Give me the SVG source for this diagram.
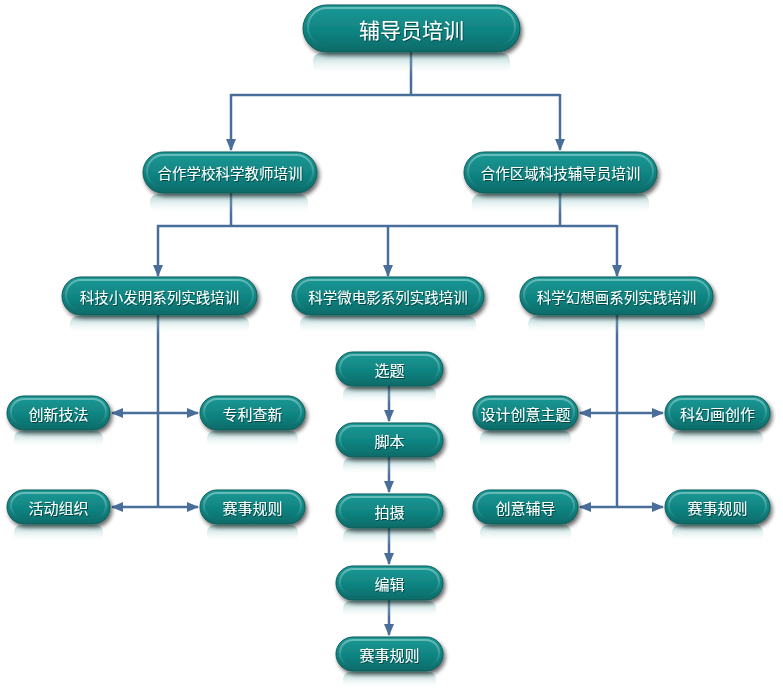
<svg xmlns="http://www.w3.org/2000/svg" width="783" height="689" viewBox="0 0 783 689">
<defs>
<linearGradient id="body" x1="0" y1="0" x2="0" y2="1">
<stop offset="0" stop-color="#1a9996"/>
<stop offset="0.55" stop-color="#108481"/>
<stop offset="1" stop-color="#0a6a68"/>
</linearGradient>
<linearGradient id="gloss" x1="0" y1="0" x2="0" y2="1">
<stop offset="0" stop-color="#ffffff" stop-opacity="0.35"/>
<stop offset="1" stop-color="#ffffff" stop-opacity="0"/>
</linearGradient>
<linearGradient id="refl" x1="0" y1="0" x2="0" y2="1">
<stop offset="0" stop-color="#4f9f9d" stop-opacity="0.5"/>
<stop offset="1" stop-color="#ffffff" stop-opacity="0"/>
</linearGradient>
<filter id="sh" x="-20%" y="-30%" width="140%" height="170%">
<feGaussianBlur in="SourceAlpha" stdDeviation="2"/>
<feOffset dx="2" dy="3" result="b"/>
<feComponentTransfer><feFuncA type="linear" slope="0.6"/></feComponentTransfer>
<feMerge><feMergeNode/><feMergeNode in="SourceGraphic"/></feMerge>
</filter>
<filter id="ts" x="-10%" y="-30%" width="120%" height="160%">
<feGaussianBlur in="SourceAlpha" stdDeviation="0.5"/>
<feOffset dx="0.6" dy="0.6"/>
<feComponentTransfer><feFuncA type="linear" slope="0.45"/></feComponentTransfer>
<feMerge><feMergeNode/><feMergeNode in="SourceGraphic"/></feMerge>
</filter>
<marker id="arr" markerUnits="userSpaceOnUse" markerWidth="12" markerHeight="10" refX="11" refY="5" orient="auto">
<path d="M0,0 L12,5 L0,10 Z" fill="#4a6e9a"/>
</marker>
</defs>
<style>
.pill{fill:url(#body);stroke:#0b5a58;stroke-width:1;filter:url(#sh)}
.gl{fill:none;stroke:url(#gloss);stroke-width:2}
.rf{fill:url(#refl)}
.t{font-family:"Noto Sans CJK SC","Noto Sans",sans-serif;fill:#ffffff;text-anchor:middle;dominant-baseline:central;filter:url(#ts)}
.s14{font-size:14.5px}
.s15{font-size:15px}
.s20{font-size:21px}
.c{fill:none;stroke:#4a6e9a;stroke-width:2.5}
.a{fill:none;stroke:#4a6e9a;stroke-width:2.5;marker-end:url(#arr)}
</style>
<rect width="783" height="689" fill="#ffffff"/>

<g id="connectors">
<path class="c" d="M411,52 V95 M231,95 H560"/>
<path class="a" d="M231,94 V150"/>
<path class="a" d="M560,94 V150"/>
<path class="c" d="M231,193 V226 M560,193 V226 M157,226 H617"/>
<path class="a" d="M158,225 V276"/>
<path class="a" d="M388,225 V276"/>
<path class="a" d="M617,225 V276"/>
<path class="c" d="M158,315 V507"/>
<path class="a" d="M158,413 H112"/>
<path class="a" d="M158,413 H198"/>
<path class="a" d="M158,507 H112"/>
<path class="a" d="M158,507 H198"/>
<path class="c" d="M617,315 V507"/>
<path class="a" d="M617,413 H580"/>
<path class="a" d="M617,413 H663"/>
<path class="a" d="M617,507 H580"/>
<path class="a" d="M617,507 H663"/>
<path class="a" d="M389,386 V421"/>
<path class="a" d="M389,457 V492"/>
<path class="a" d="M389,528 V564"/>
<path class="a" d="M389,600 V635"/>
</g>

<g id="n-root">
<rect class="rf" x="313" y="53" width="197" height="22" rx="8"/>
<rect class="pill" x="303" y="5" width="217" height="47" rx="23.5"/>
<rect class="gl" x="308" y="8" width="207" height="38" rx="19"/>
<text class="t s20" x="411.5" y="29">辅导员培训</text>
</g>

<g id="n-school">
<rect class="rf" x="150" y="194" width="158" height="20" rx="8"/>
<rect class="pill" x="143" y="152" width="174" height="41" rx="20.5"/>
<rect class="gl" x="147" y="155" width="166" height="33" rx="16.5"/>
<text class="t s14" x="230" y="172.5">合作学校科学教师培训</text>
</g>

<g id="n-region">
<rect class="rf" x="472" y="194" width="177" height="20" rx="8"/>
<rect class="pill" x="464" y="152" width="193" height="41" rx="20.5"/>
<rect class="gl" x="468" y="155" width="185" height="33" rx="16.5"/>
<text class="t s14" x="560.5" y="172.5">合作区域科技辅导员培训</text>
</g>

<g id="n-invent">
<rect class="rf" x="70" y="316" width="179" height="18" rx="8"/>
<rect class="pill" x="62" y="277" width="195" height="38" rx="19"/>
<rect class="gl" x="66" y="280" width="187" height="30" rx="15"/>
<text class="t s14" x="159.5" y="296">科技小发明系列实践培训</text>
</g>

<g id="n-film">
<rect class="rf" x="300" y="316" width="176" height="18" rx="8"/>
<rect class="pill" x="292" y="277" width="192" height="38" rx="19"/>
<rect class="gl" x="296" y="280" width="184" height="30" rx="15"/>
<text class="t s14" x="388" y="296">科学微电影系列实践培训</text>
</g>

<g id="n-fantasy">
<rect class="rf" x="528" y="316" width="177" height="18" rx="8"/>
<rect class="pill" x="520" y="277" width="193" height="38" rx="19"/>
<rect class="gl" x="524" y="280" width="185" height="30" rx="15"/>
<text class="t s14" x="616.5" y="296">科学幻想画系列实践培训</text>
</g>

<g id="n-chuangxin">
<rect class="rf" x="14" y="431" width="89" height="17" rx="7"/>
<rect class="pill" x="7" y="396" width="103" height="34" rx="17"/>
<rect class="gl" x="11" y="399" width="95" height="26" rx="13"/>
<text class="t s15" x="58.5" y="413">创新技法</text>
</g>

<g id="n-zhuanli">
<rect class="rf" x="207" y="431" width="91" height="17" rx="7"/>
<rect class="pill" x="200" y="396" width="105" height="34" rx="17"/>
<rect class="gl" x="204" y="399" width="97" height="26" rx="13"/>
<text class="t s15" x="252.5" y="413">专利查新</text>
</g>

<g id="n-huodong">
<rect class="rf" x="14" y="525" width="89" height="17" rx="7"/>
<rect class="pill" x="7" y="490" width="103" height="34" rx="17"/>
<rect class="gl" x="11" y="493" width="95" height="26" rx="13"/>
<text class="t s15" x="58.5" y="507">活动组织</text>
</g>

<g id="n-saishi1">
<rect class="rf" x="207" y="525" width="91" height="17" rx="7"/>
<rect class="pill" x="200" y="490" width="105" height="34" rx="17"/>
<rect class="gl" x="204" y="493" width="97" height="26" rx="13"/>
<text class="t s15" x="252.5" y="507">赛事规则</text>
</g>

<g id="n-sheji">
<rect class="rf" x="480" y="431" width="91" height="17" rx="7"/>
<rect class="pill" x="473" y="396" width="105" height="34" rx="17"/>
<rect class="gl" x="477" y="399" width="97" height="26" rx="13"/>
<text class="t s15" x="525.5" y="413">设计创意主题</text>
</g>

<g id="n-kehuan">
<rect class="rf" x="672" y="431" width="91" height="17" rx="7"/>
<rect class="pill" x="665" y="396" width="105" height="34" rx="17"/>
<rect class="gl" x="669" y="399" width="97" height="26" rx="13"/>
<text class="t s15" x="717.5" y="413">科幻画创作</text>
</g>

<g id="n-chuangyi">
<rect class="rf" x="480" y="525" width="91" height="17" rx="7"/>
<rect class="pill" x="473" y="490" width="105" height="34" rx="17"/>
<rect class="gl" x="477" y="493" width="97" height="26" rx="13"/>
<text class="t s15" x="525.5" y="507">创意辅导</text>
</g>

<g id="n-saishi3">
<rect class="rf" x="672" y="525" width="91" height="17" rx="7"/>
<rect class="pill" x="665" y="490" width="105" height="34" rx="17"/>
<rect class="gl" x="669" y="493" width="97" height="26" rx="13"/>
<text class="t s15" x="717.5" y="507">赛事规则</text>
</g>

<g id="n-xuanti">
<rect class="rf" x="343" y="387" width="93" height="17" rx="7"/>
<rect class="pill" x="336" y="352" width="107" height="34" rx="17"/>
<rect class="gl" x="340" y="355" width="99" height="26" rx="13"/>
<text class="t s15" x="389.5" y="369">选题</text>
</g>

<g id="n-jiaoben">
<rect class="rf" x="343" y="458" width="93" height="17" rx="7"/>
<rect class="pill" x="336" y="423" width="107" height="34" rx="17"/>
<rect class="gl" x="340" y="426" width="99" height="26" rx="13"/>
<text class="t s15" x="389.5" y="440">脚本</text>
</g>

<g id="n-paishe">
<rect class="rf" x="343" y="529" width="93" height="17" rx="7"/>
<rect class="pill" x="336" y="494" width="107" height="34" rx="17"/>
<rect class="gl" x="340" y="497" width="99" height="26" rx="13"/>
<text class="t s15" x="389.5" y="511">拍摄</text>
</g>

<g id="n-bianji">
<rect class="rf" x="343" y="601" width="93" height="17" rx="7"/>
<rect class="pill" x="336" y="566" width="107" height="34" rx="17"/>
<rect class="gl" x="340" y="569" width="99" height="26" rx="13"/>
<text class="t s15" x="389.5" y="583">编辑</text>
</g>

<g id="n-saishi2">
<rect class="rf" x="343" y="672" width="93" height="17" rx="7"/>
<rect class="pill" x="336" y="637" width="107" height="34" rx="17"/>
<rect class="gl" x="340" y="640" width="99" height="26" rx="13"/>
<text class="t s15" x="389.5" y="654">赛事规则</text>
</g>
</svg>
